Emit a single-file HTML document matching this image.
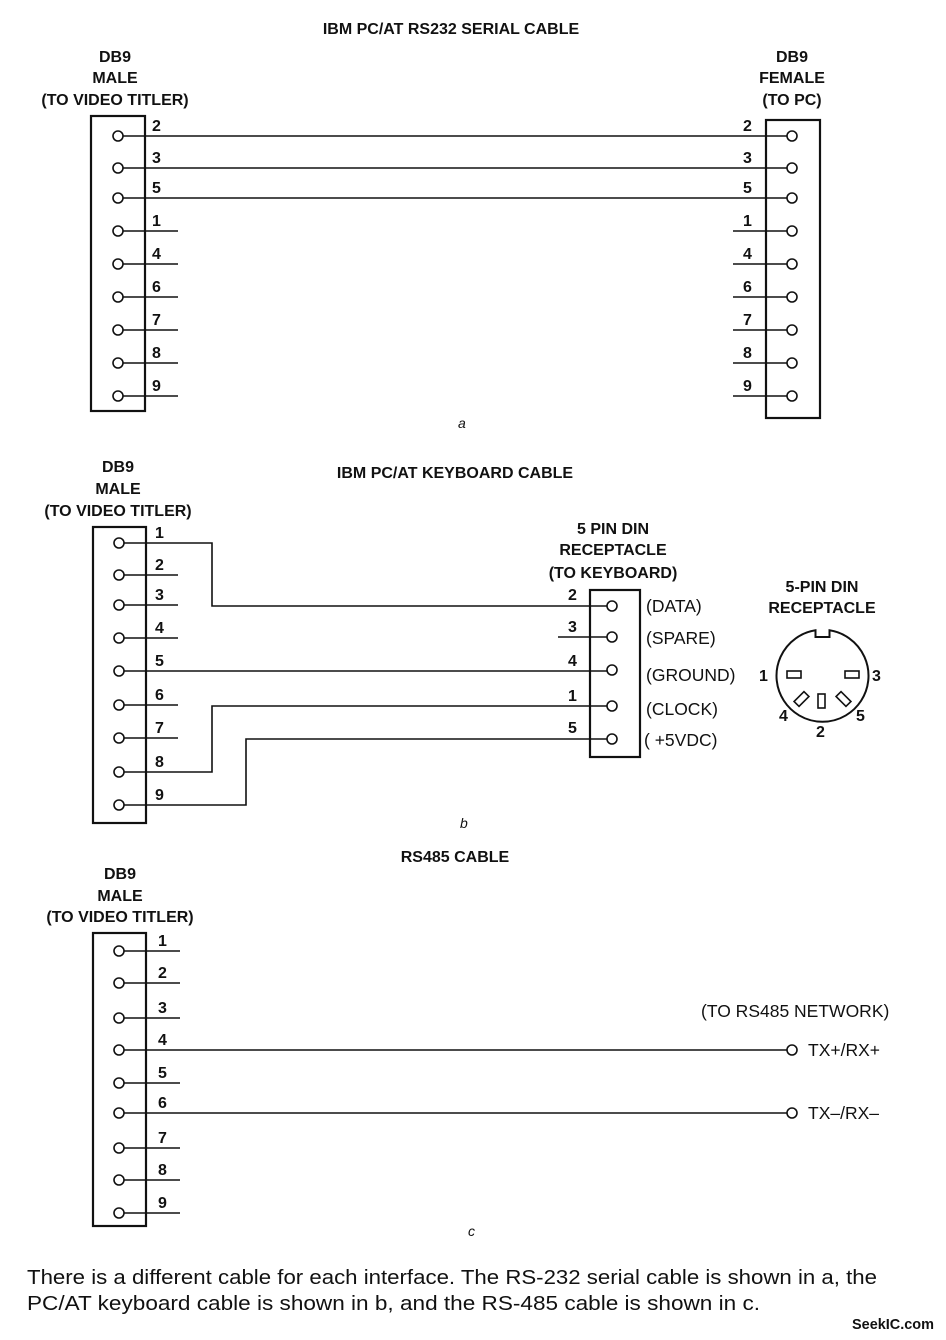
<!DOCTYPE html>
<html><head><meta charset="utf-8"><style>
html,body{margin:0;padding:0;background:#fff;}
svg{display:block;}
text{font-family:"Liberation Sans",sans-serif;fill:#111;}
.b{font-weight:bold;font-size:16px;}
.n{font-weight:bold;font-size:16px;}
.l{font-size:17.5px;}
</style></head><body>
<svg width="946" height="1340" viewBox="0 0 946 1340" xmlns="http://www.w3.org/2000/svg" stroke="#111" stroke-width="1.6" fill="none">
<!-- ===== a ===== -->
<text class="b" x="451" y="34" text-anchor="middle" stroke="none">IBM PC/AT RS232 SERIAL CABLE</text>
<text class="b" x="115" y="62" text-anchor="middle" stroke="none">DB9</text>
<text class="b" x="115" y="83" text-anchor="middle" stroke="none">MALE</text>
<text class="b" x="115" y="105" text-anchor="middle" stroke="none">(TO VIDEO TITLER)</text>
<text class="b" x="792" y="62" text-anchor="middle" stroke="none">DB9</text>
<text class="b" x="792" y="83" text-anchor="middle" stroke="none">FEMALE</text>
<text class="b" x="792" y="105" text-anchor="middle" stroke="none">(TO PC)</text>
<rect x="91" y="116" width="54" height="295" stroke-width="2.2"/>
<rect x="766" y="120" width="54" height="298" stroke-width="2.2"/>
<g>
<circle cx="118" cy="136" r="5"/><circle cx="118" cy="168" r="5"/><circle cx="118" cy="198" r="5"/>
<circle cx="118" cy="231" r="5"/><circle cx="118" cy="264" r="5"/><circle cx="118" cy="297" r="5"/>
<circle cx="118" cy="330" r="5"/><circle cx="118" cy="363" r="5"/><circle cx="118" cy="396" r="5"/>
<path d="M123 136H787M123 168H787M123 198H787M123 231H178M123 264H178M123 297H178M123 330H178M123 363H178M123 396H178"/>
<circle cx="792" cy="136" r="5"/><circle cx="792" cy="168" r="5"/><circle cx="792" cy="198" r="5"/>
<circle cx="792" cy="231" r="5"/><circle cx="792" cy="264" r="5"/><circle cx="792" cy="297" r="5"/>
<circle cx="792" cy="330" r="5"/><circle cx="792" cy="363" r="5"/><circle cx="792" cy="396" r="5"/>
<path d="M733 231H787M733 264H787M733 297H787M733 330H787M733 363H787M733 396H787"/>
</g>
<g stroke="none">
<text class="n" x="152" y="131">2</text><text class="n" x="152" y="163">3</text><text class="n" x="152" y="193">5</text>
<text class="n" x="152" y="226">1</text><text class="n" x="152" y="259">4</text><text class="n" x="152" y="292">6</text>
<text class="n" x="152" y="325">7</text><text class="n" x="152" y="358">8</text><text class="n" x="152" y="391">9</text>
<text class="n" x="743" y="131">2</text><text class="n" x="743" y="163">3</text><text class="n" x="743" y="193">5</text>
<text class="n" x="743" y="226">1</text><text class="n" x="743" y="259">4</text><text class="n" x="743" y="292">6</text>
<text class="n" x="743" y="325">7</text><text class="n" x="743" y="358">8</text><text class="n" x="743" y="391">9</text>
</g>
<text x="458" y="428" font-size="14" font-style="italic" stroke="none">a</text>

<!-- ===== b ===== -->
<text class="b" x="118" y="472" text-anchor="middle" stroke="none">DB9</text>
<text class="b" x="118" y="494" text-anchor="middle" stroke="none">MALE</text>
<text class="b" x="118" y="516" text-anchor="middle" stroke="none">(TO VIDEO TITLER)</text>
<text class="b" x="455" y="478" text-anchor="middle" stroke="none">IBM PC/AT KEYBOARD CABLE</text>
<text class="b" x="613" y="534" text-anchor="middle" stroke="none">5 PIN DIN</text>
<text class="b" x="613" y="555" text-anchor="middle" stroke="none">RECEPTACLE</text>
<text class="b" x="613" y="578" text-anchor="middle" stroke="none">(TO KEYBOARD)</text>
<rect x="93" y="527" width="53" height="296" stroke-width="2.2"/>
<rect x="590" y="590" width="50" height="167" stroke-width="2.2"/>
<circle cx="119" cy="543" r="5"/><circle cx="119" cy="575" r="5"/><circle cx="119" cy="605" r="5"/>
<circle cx="119" cy="638" r="5"/><circle cx="119" cy="671" r="5"/><circle cx="119" cy="705" r="5"/>
<circle cx="119" cy="738" r="5"/><circle cx="119" cy="772" r="5"/><circle cx="119" cy="805" r="5"/>
<path d="M124 543H212V606H607M124 575H178M124 605H178M124 638H178M124 671H607M124 705H178M124 738H178M124 772H212V706H607M124 805H246V739H607M558 637H607"/>
<circle cx="612" cy="606" r="5"/><circle cx="612" cy="637" r="5"/><circle cx="612" cy="670" r="5"/>
<circle cx="612" cy="706" r="5"/><circle cx="612" cy="739" r="5"/>
<g stroke="none">
<text class="n" x="155" y="538">1</text><text class="n" x="155" y="570">2</text><text class="n" x="155" y="600">3</text>
<text class="n" x="155" y="633">4</text><text class="n" x="155" y="666">5</text><text class="n" x="155" y="700">6</text>
<text class="n" x="155" y="733">7</text><text class="n" x="155" y="767">8</text><text class="n" x="155" y="800">9</text>
<text class="n" x="568" y="600">2</text><text class="n" x="568" y="632">3</text><text class="n" x="568" y="666">4</text>
<text class="n" x="568" y="701">1</text><text class="n" x="568" y="733">5</text>
<text class="l" x="646" y="612">(DATA)</text><text class="l" x="646" y="644">(SPARE)</text>
<text class="l" x="646" y="681">(GROUND)</text><text class="l" x="646" y="715">(CLOCK)</text>
<text class="l" x="644" y="746">( +5VDC)</text>
<text class="b" x="822" y="592" text-anchor="middle">5-PIN DIN</text>
<text class="b" x="822" y="613" text-anchor="middle">RECEPTACLE</text>
<text class="n" x="759" y="681">1</text><text class="n" x="872" y="681">3</text>
<text class="n" x="779" y="721">4</text><text class="n" x="856" y="721">5</text>
<text class="n" x="816" y="737">2</text>
<text x="460" y="828" font-size="14" font-style="italic">b</text>
</g>
<path d="M815.5 630.3 A46 46 0 1 0 829.5 630.3 V637 H815.5 Z" stroke-width="2"/>
<rect x="787" y="671" width="14" height="7"/>
<rect x="845" y="671" width="14" height="7"/>
<rect x="818" y="694" width="7" height="14"/>
<rect x="798" y="692" width="7" height="14" transform="rotate(45 801.5 699)"/>
<rect x="840" y="692" width="7" height="14" transform="rotate(-45 843.5 699)"/>

<!-- ===== c ===== -->
<text class="b" x="455" y="862" text-anchor="middle" stroke="none">RS485 CABLE</text>
<text class="b" x="120" y="879" text-anchor="middle" stroke="none">DB9</text>
<text class="b" x="120" y="901" text-anchor="middle" stroke="none">MALE</text>
<text class="b" x="120" y="922" text-anchor="middle" stroke="none">(TO VIDEO TITLER)</text>
<rect x="93" y="933" width="53" height="293" stroke-width="2.2"/>
<circle cx="119" cy="951" r="5"/><circle cx="119" cy="983" r="5"/><circle cx="119" cy="1018" r="5"/>
<circle cx="119" cy="1050" r="5"/><circle cx="119" cy="1083" r="5"/><circle cx="119" cy="1113" r="5"/>
<circle cx="119" cy="1148" r="5"/><circle cx="119" cy="1180" r="5"/><circle cx="119" cy="1213" r="5"/>
<path d="M124 951H180M124 983H180M124 1018H180M124 1050H787M124 1083H180M124 1113H787M124 1148H180M124 1180H180M124 1213H180"/>
<circle cx="792" cy="1050" r="5"/><circle cx="792" cy="1113" r="5"/>
<g stroke="none">
<text class="n" x="158" y="946">1</text><text class="n" x="158" y="978">2</text><text class="n" x="158" y="1013">3</text>
<text class="n" x="158" y="1045">4</text><text class="n" x="158" y="1078">5</text><text class="n" x="158" y="1108">6</text>
<text class="n" x="158" y="1143">7</text><text class="n" x="158" y="1175">8</text><text class="n" x="158" y="1208">9</text>
<text class="l" x="701" y="1017">(TO RS485 NETWORK)</text>
<text class="l" x="808" y="1056">TX+/RX+</text>
<text class="l" x="808" y="1119">TX–/RX–</text>
<text x="468" y="1236" font-size="14" font-style="italic">c</text>
<text x="27" y="1284" font-size="20" textLength="850" lengthAdjust="spacingAndGlyphs">There is a different cable for each interface. The RS-232 serial cable is shown in a, the</text>
<text x="27" y="1310" font-size="20" textLength="733" lengthAdjust="spacingAndGlyphs">PC/AT keyboard cable is shown in b, and the RS-485 cable is shown in c.</text>
<text x="852" y="1329" font-size="15" font-weight="bold" fill="#555" textLength="82" lengthAdjust="spacingAndGlyphs">SeekIC.com</text>
</g>
</svg>
</body></html>
